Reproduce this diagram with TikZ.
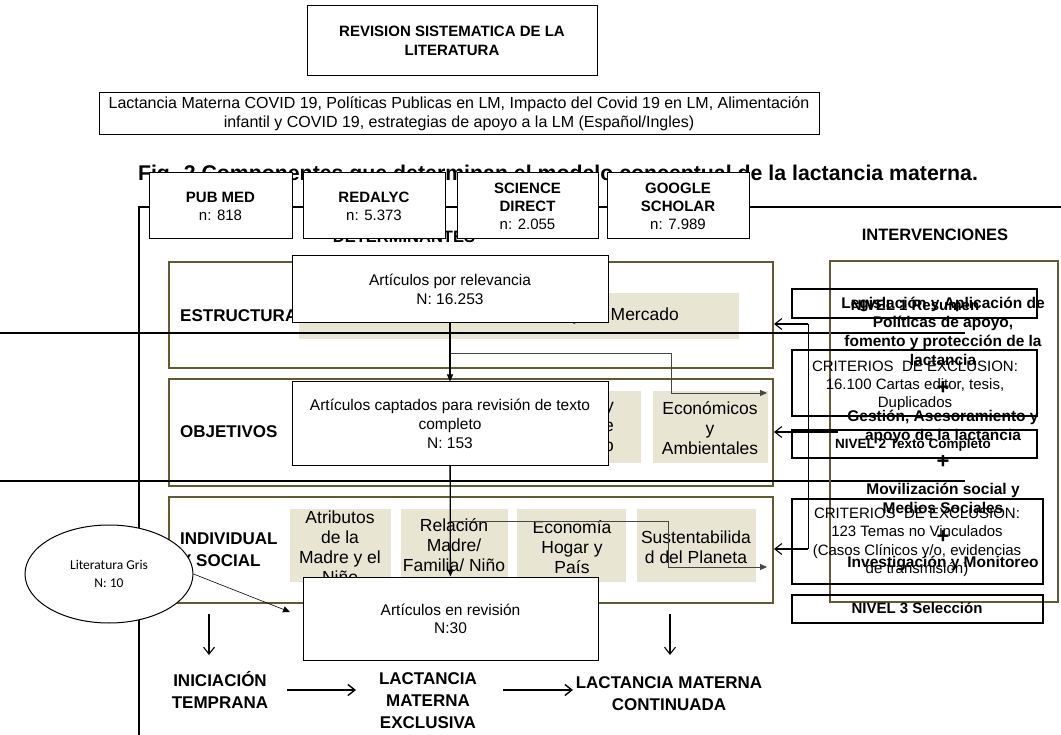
\documentclass[tikz,border=0pt]{standalone}
\usepackage{fontspec}
\setmainfont{Liberation Sans}
\newfontfamily\carl{Carlito}
\usetikzlibrary{arrows.meta,shapes.geometric}
\definecolor{olv}{RGB}{96,91,50}
\definecolor{bge}{RGB}{232,230,210}
\definecolor{gln}{RGB}{70,70,70}
\newcommand{\fsz}[2]{\fontsize{#1}{#2}\selectfont}
\begin{document}
\begin{tikzpicture}[x=1pt,y=-1pt,
  wbox/.style={draw=black, line width=1pt, fill=white, inner sep=0pt, align=center},
  rbox/.style={draw=black, line width=1.1pt, inner sep=0pt},
  fram/.style={draw=olv, line width=2pt, inner sep=0pt},
  bbox/.style={fill=bge, inner sep=0pt},
  btxt/.style={inner sep=0pt, align=center, font=\fsz{17.5}{20}},
  lbl/.style={inner sep=0pt, align=center},
  hd/.style={inner sep=0pt, align=left, font=\fsz{17}{22}\bfseries},
  itx/.style={inner sep=0pt, align=center, font=\fsz{15.5}{19}\bfseries},
  plus/.style={inner sep=0pt, font=\fsz{22}{22}\bfseries},
  otx/.style={inner sep=0pt, align=center, font=\fsz{17}{22}\bfseries},
  gline/.style={draw=gln, line width=0.9pt, -{Triangle[length=7pt,width=6pt]}},
  farr/.style={draw=black, line width=1.3pt, -{Triangle[length=7pt,width=6pt]}},
  oarr/.style={draw=black, line width=1.1pt, -{Straight Barb[length=7pt,width=11pt]}},
  bigl/.style={draw=black, line width=2pt},
  frl/.style={draw=black, line width=1.1pt}
]
\useasboundingbox (0,0) rectangle (1061,735);
% outer frame lines
\coordinate (fa) at (139,735);
\coordinate (fb) at (139,207);
\coordinate (fc) at (1061,207);
\draw[frl] (fa) -- (fb) -- (fc);
% title
\node[lbl, font=\fsz{21.3}{24}\bfseries] (title) at (558,175) {Fig. 2 Componentes que determinan el modelo conceptual de la lactancia materna.};
\node[lbl, font=\fsz{16.5}{20}\bfseries, anchor=base] (det) at (404,243) {DETERMINANTES};
\node[lbl, font=\fsz{16.5}{20}\bfseries] (intv) at (935,235) {INTERVENCIONES};
% sources
\node[wbox, minimum width=143, minimum height=66, font=\fsz{15}{18}] (pm) at (220.5,206) {\bfseries PUB MED\\n: 818};
\node[wbox, minimum width=142, minimum height=66, font=\fsz{15}{18}] (rd) at (374,206) {\bfseries REDALYC\\n: 5.373};
\node[wbox, minimum width=141, minimum height=66, font=\fsz{15}{18}] (sd) at (527.5,206) {\bfseries SCIENCE\\\bfseries DIRECT\\n: 2.055};
\node[wbox, minimum width=142, minimum height=66, font=\fsz{15}{18}] (gs) at (678,206) {\bfseries GOOGLE\\\bfseries SCHOLAR\\n: 7.989};
% olive frames
\node[fram, minimum width=604, minimum height=106] (fe) at (471,315) {};
\node[fram, minimum width=604, minimum height=107] (fo) at (471,432.5) {};
\node[fram, minimum width=604, minimum height=106] (fi) at (471,550) {};
% beige boxes
\node[bbox, minimum width=440, minimum height=46] (eb) at (519,316) {};
\node[btxt, anchor=east] (ebt) at (679,316) {Sociales, Culturales y de Mercado};
\node[bbox, minimum width=186, minimum height=72] (ob1) at (548,427) {};
\node[btxt, anchor=east, align=right] (ob1t) at (614,427) {Sociales y\\Servicios de\\Apoyo};
\node[bbox, minimum width=115, minimum height=72] (ob2) at (710.5,427) {};
\node[btxt] (ob2t) at (710,428) {Económicos\\y\\Ambientales};
\node[bbox, minimum width=101, minimum height=73] (ib1) at (340.5,545.5) {};
\node[btxt] (ib1t) at (340,547) {Atributos\\de la\\Madre y el\\Niño};
\node[bbox, minimum width=107, minimum height=73] (ib2) at (454.5,545.5) {};
\node[btxt] (ib2t) at (454,545) {Relación\\Madre/\\Familia/ Niño};
\node[bbox, minimum width=109, minimum height=73] (ib3) at (571.5,545.5) {};
\node[btxt] (ib3t) at (572,547) {Economía\\Hogar y\\País};
\node[bbox, minimum width=119, minimum height=73] (ib4) at (696.5,545.5) {};
\node[btxt] (ib4t) at (696,547) {Sustentabilida\\d del Planeta};
% row labels
\node[hd, anchor=west] (les) at (180,316) {ESTRUCTURAL};
\node[hd, anchor=west] (lob) at (180,432) {OBJETIVOS};
\node[hd, anchor=west] (lin) at (180,550) {INDIVIDUAL\\Y SOCIAL};
% grey branch lines
\coordinate (b1s) at (450,353);
\coordinate (b1e) at (767,393);
\draw[gline] (b1s) -- (671,353) -- (671,393) -- (b1e);
\coordinate (b2s) at (450,521);
\coordinate (b2e) at (767,567);
\draw[gline] (b2s) -- (668,521) -- (668,567) -- (b2e);
% article boxes
\node[wbox, minimum width=316, minimum height=67, font=\fsz{15.5}{18.5}] (rel) at (450,289.5) {Artículos por relevancia\\N: 16.253};
\node[wbox, minimum width=316, minimum height=83, font=\fsz{15.5}{19}] (cap) at (450,423.5) {Artículos captados para revisión de texto\\completo\\N: 153};
\node[wbox, minimum width=295, minimum height=83, font=\fsz{15.5}{18}] (rev) at (450.5,618.5) {Artículos en revisión\\N:30};
\draw[farr] (rel) -- (cap);
\draw[farr] (cap) -- (rev);
% long black lines
\coordinate (l1a) at (0,333); \coordinate (l1b) at (965,333);
\coordinate (l2a) at (0,481); \coordinate (l2b) at (965,481);
\draw[bigl] (l1a) -- (l1b);
\draw[bigl] (l2a) -- (l2b);
% intervention frame and boxes
\node[fram, minimum width=228, minimum height=341] (fr) at (944,431.5) {};
\node[rbox, minimum width=245, minimum height=29] (nv1) at (914.5,303.5) {};
\node[rbox, minimum width=245, minimum height=66] (cr1) at (914.5,383) {};
\node[rbox, minimum width=245, minimum height=28] (nv2) at (914.5,444) {};
\node[rbox, minimum width=251, minimum height=85] (cr2) at (917.5,541.5) {};
\node[rbox, minimum width=251, minimum height=28] (nv3) at (917.5,609) {};
\node[lbl, font=\fsz{15}{18}\bfseries] (nv1t) at (915,305) {NIVEL 1 Resumen};
\node[lbl, font=\fsz{15}{18}] (cr1t) at (915,386) {CRITERIOS\ \ DE EXCLUSION:\\16.100 Cartas editor, tesis,\\Duplicados};
\node[lbl, font=\fsz{13.5}{16}\bfseries] (nv2t) at (913,445) {NIVEL 2 Texto Completo};
\node[lbl, font=\fsz{15}{18.5}] (cr2t) at (917,542.5) {CRITERIOS\ \ DE EXCLUSION:\\123 Temas no Vinculados\\(Casos Clínicos y/o, evidencias\\de transmisión)};
\node[lbl, font=\fsz{15}{18}\bfseries] (nv3t) at (917,608) {NIVEL 3 Selección};
\node[itx] (it1) at (943,331) {Legislación y Aplicación de\\Políticas de apoyo,\\fomento y protección de la\\lactancia};
\node[plus] (p1) at (943,388) {+};
\node[itx] (it2) at (943,427) {Gestión, Asesoramiento y\\apoyo de la lactancia};
\node[plus] (p2) at (943,462) {+};
\node[itx] (it3) at (943,498) {Movilización social y\\Medios Sociales};
\node[plus] (p3) at (943,537) {+};
\node[itx] (it4) at (943,563) {Investigación y Monitoreo};
% left pointing arrows
\coordinate (vt) at (808,324);
\coordinate (vb) at (808,549);
\coordinate (a1) at (774,324);
\coordinate (a2s) at (838,432);
\coordinate (a2) at (774,432);
\coordinate (a3) at (774,549);
\draw[frl, line width=1pt] (vt) -- (vb);
\draw[oarr] (vt) -- (a1);
\draw[oarr] (a2s) -- (a2);
\draw[oarr] (vb) -- (a3);
% grey literature
\node[draw=black, line width=1pt, fill=white, ellipse, minimum width=168, minimum height=98, inner sep=0pt] (lg) at (109,574) {};
\node[lbl, font=\carl\fsz{13.5}{18}] (lgt) at (109,574) {Literatura Gris\\N: 10};
\coordinate (lge) at (290,612);
\draw[draw=black, line width=0.6pt, -{Triangle[length=7pt,width=6pt]}] (lg.east) -- (lge);
% outcomes
\node[otx] (ini) at (220,690) {INICIACIÓN\\TEMPRANA};
\node[otx] (lme) at (428,701) {LACTANCIA\\MATERNA\\EXCLUSIVA};
\node[otx] (lmc) at (669,694) {LACTANCIA MATERNA\\CONTINUADA};
\coordinate (d1s) at (209,614); \coordinate (d1e) at (209,655);
\coordinate (d2s) at (670,614); \coordinate (d2e) at (670,655);
\draw[oarr] (d1s) -- (d1e);
\draw[oarr] (d2s) -- (d2e);
\coordinate (h1s) at (287,690); \coordinate (h1e) at (356,690);
\coordinate (h2s) at (503,690); \coordinate (h2e) at (573,690);
\draw[oarr, line width=1.4pt] (h1s) -- (h1e);
\draw[oarr, line width=1.4pt] (h2s) -- (h2e);
% top boxes
\node[wbox, minimum width=290, minimum height=70, font=\fsz{15}{19}\bfseries] (top) at (452,41) {REVISION SISTEMATICA DE LA\\LITERATURA};
\node[wbox, minimum width=720, minimum height=42, font=\fsz{16}{19}] (kw) at (459,114) {Lactancia Materna COVID 19, Políticas Publicas en LM, Impacto del Covid 19 en LM, Alimentación\\infantil y COVID 19, estrategias de apoyo a la LM (Español/Ingles)};
\end{tikzpicture}
\end{document}
